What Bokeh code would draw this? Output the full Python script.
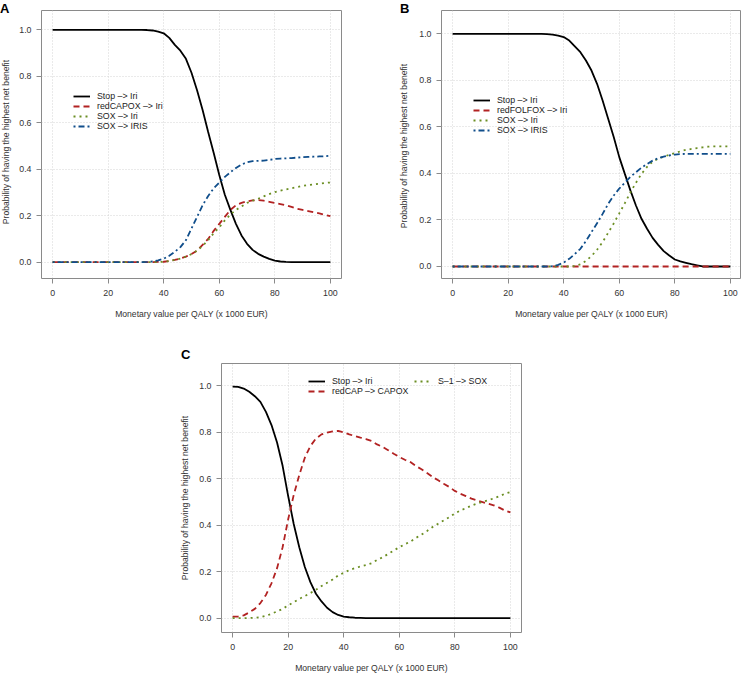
from bokeh.plotting import figure
from bokeh.layouts import column, row
from bokeh.models import (Range1d, FixedTicker, NumeralTickFormatter, Legend,
                          LegendItem, Spacer, Div)
from bokeh.embed import file_html
from bokeh.resources import INLINE

# ---- data: probability of each strategy having the highest net benefit ----
# Panels A and B share one grid of monetary values (x 1000 EUR)
ab_wtp = [0, 10, 20, 30, 32, 34, 36, 38, 40, 42, 44, 46, 48, 50, 52, 54, 56, 58,
          60, 62, 64, 66, 68, 70, 72, 74, 76, 78, 80, 82, 84, 86, 88, 90, 92,
          94, 96, 98, 100]

a_stop = [1.0, 1.0, 1.0, 1.0, 1.0, 0.999, 0.997, 0.992, 0.985, 0.965, 0.935,
          0.91, 0.875, 0.815, 0.74, 0.655, 0.56, 0.47, 0.375, 0.29, 0.225,
          0.165, 0.115, 0.079, 0.053, 0.036, 0.024, 0.014, 0.007, 0.003, 0.001,
          0, 0, 0, 0, 0, 0, 0, 0]
a_redcapox = [0, 0, 0, 0, 0, 0, 0, 0.001, 0.002, 0.005, 0.01, 0.016, 0.024,
              0.035, 0.05, 0.075, 0.10, 0.135, 0.165, 0.195, 0.225, 0.245,
              0.255, 0.262, 0.266, 0.267, 0.265, 0.26, 0.255, 0.25, 0.245,
              0.238, 0.23, 0.225, 0.22, 0.215, 0.21, 0.204, 0.198]
a_sox_iri = [0, 0, 0, 0, 0, 0, 0, 0.001, 0.002, 0.005, 0.01, 0.016, 0.024,
             0.035, 0.05, 0.07, 0.095, 0.125, 0.15, 0.18, 0.205, 0.225, 0.24,
             0.255, 0.265, 0.273, 0.283, 0.293, 0.302, 0.308, 0.313, 0.318,
             0.323, 0.328, 0.332, 0.335, 0.338, 0.341, 0.343]
a_sox_iris = [0, 0, 0, 0, 0, 0.001, 0.003, 0.008, 0.015, 0.028, 0.045, 0.065,
              0.095, 0.145, 0.195, 0.245, 0.285, 0.318, 0.343, 0.367, 0.387,
              0.405, 0.42, 0.43, 0.435, 0.436, 0.437, 0.44, 0.444, 0.446,
              0.447, 0.448, 0.45, 0.452, 0.453, 0.454, 0.455, 0.456, 0.458]

b_stop = [1.0, 1.0, 1.0, 1.0, 1.0, 0.999, 0.996, 0.992, 0.986, 0.971, 0.946,
          0.921, 0.885, 0.842, 0.785, 0.713, 0.635, 0.556, 0.47, 0.398, 0.327,
          0.262, 0.205, 0.162, 0.123, 0.093, 0.066, 0.047, 0.03, 0.022, 0.016,
          0.01, 0.005, 0, 0, 0, 0, 0, 0]
b_redfolfox = [0] * 39
b_sox_iri = [0, 0, 0, 0, 0, 0, 0, 0, 0, 0, 0.002, 0.009, 0.024, 0.045, 0.072,
             0.105, 0.145, 0.185, 0.228, 0.272, 0.318, 0.36, 0.398, 0.428,
             0.45, 0.463, 0.472, 0.48, 0.487, 0.495, 0.501, 0.505, 0.509,
             0.512, 0.515, 0.516, 0.516, 0.516, 0.516]
b_sox_iris = [0, 0, 0, 0, 0, 0, 0.001, 0.007, 0.017, 0.033, 0.054, 0.076,
              0.109, 0.148, 0.186, 0.226, 0.269, 0.305, 0.335, 0.36, 0.385,
              0.405, 0.425, 0.44, 0.455, 0.465, 0.472, 0.477, 0.481, 0.483,
              0.484, 0.484, 0.484, 0.484, 0.484, 0.484, 0.484, 0.484, 0.484]

# Panel C on a regular grid of 2 (x 1000 EUR)
c_wtp = list(range(0, 101, 2))
c_stop = [0.995, 0.994, 0.987, 0.973, 0.954, 0.93, 0.887, 0.83, 0.755, 0.655,
          0.525, 0.405, 0.305, 0.22, 0.155, 0.105, 0.072, 0.045, 0.026, 0.014,
          0.007, 0.004, 0.002, 0.001] + [0] * 27
c_redcap = [0.007, 0.007, 0.012, 0.025, 0.04, 0.065, 0.10, 0.15, 0.215, 0.305,
            0.425, 0.53, 0.615, 0.69, 0.74, 0.772, 0.79, 0.798, 0.803, 0.805,
            0.799, 0.79, 0.783, 0.776, 0.77, 0.762, 0.747, 0.736, 0.722, 0.707,
            0.693, 0.681, 0.671, 0.654, 0.64, 0.624, 0.607, 0.593, 0.578,
            0.564, 0.547, 0.535, 0.525, 0.514, 0.506, 0.499, 0.492, 0.485,
            0.475, 0.463, 0.455]
c_s1_sox = [0, 0, 0, 0.001, 0.002, 0.004, 0.01, 0.019, 0.029, 0.04, 0.055,
            0.069, 0.083, 0.095, 0.108, 0.122, 0.138, 0.152, 0.166, 0.184,
            0.195, 0.207, 0.215, 0.222, 0.228, 0.236, 0.25, 0.262, 0.276,
            0.291, 0.305, 0.318, 0.329, 0.345, 0.359, 0.375, 0.392, 0.406,
            0.42, 0.434, 0.45, 0.463, 0.473, 0.484, 0.493, 0.5, 0.507, 0.515,
            0.524, 0.535, 0.542]

x_ticks = [0, 20, 40, 60, 80, 100]
y_ticks = [0.0, 0.2, 0.4, 0.6, 0.8, 1.0]

X_TITLE = "Monetary value per QALY (x 1000 EUR)"
Y_TITLE = "Probability of having the highest net benefit"
FONT = "Liberation Sans"

# line styles for the four strategy types
STYLE = {
    "solid": dict(line_color="#000000", line_width=1.8, line_dash="solid"),
    "dash": dict(line_color="#B22222", line_width=1.8, line_dash="6 4"),
    "dot": dict(line_color="#6B8E23", line_width=1.8, line_dash="2 4"),
    "dashdot": dict(line_color="#104E8B", line_width=1.8, line_dash="2 3 6 3"),
}


def make_panel(y_lo, y_hi, fh, b_left, b_right, b_top, b_bottom):
    p = figure(title=None, frame_width=300, frame_height=fh,
               min_border_left=b_left, min_border_right=b_right,
               min_border_top=b_top, min_border_bottom=b_bottom,
               x_range=Range1d(-4, 104), y_range=Range1d(y_lo, y_hi),
               output_backend="svg", toolbar_location=None)
    p.background_fill_color = "white"
    p.border_fill_color = "white"
    p.outline_line_color = "#8a8a8a"
    p.outline_line_width = 1

    for ax, ticks in ((p.xaxis[0], x_ticks), (p.yaxis[0], y_ticks)):
        ax.ticker = FixedTicker(ticks=ticks)
        ax.axis_line_color = None
        ax.major_tick_line_color = "#8a8a8a"
        ax.major_tick_in = 0
        ax.major_tick_out = 5
        ax.minor_tick_line_color = None
        ax.major_label_text_font = FONT
        ax.major_label_text_font_size = "8.8px"
        ax.major_label_text_color = "#333333"
        ax.axis_label_text_font = FONT
        ax.axis_label_text_font_size = "8.6px"
        ax.axis_label_text_font_style = "normal"
        ax.axis_label_text_color = "#333333"
    p.xaxis[0].axis_label = X_TITLE
    p.xaxis[0].major_label_standoff = 6
    p.xaxis[0].axis_label_standoff = 10
    p.yaxis[0].major_label_standoff = 5
    p.yaxis[0].formatter = NumeralTickFormatter(format="0.0")

    for g, ticks in ((p.xgrid[0], x_ticks), (p.ygrid[0], y_ticks)):
        g.ticker = FixedTicker(ticks=ticks)
        g.grid_line_color = "#d4d4d4"
        g.grid_line_dash = "1 2"
        g.grid_line_width = 1
    return p


def add_legend(p, items, vx, vy):
    leg = Legend(items=items, location=(vx, vy))
    leg.background_fill_alpha = 0
    leg.border_line_alpha = 0
    leg.padding = 0
    leg.margin = 0
    leg.spacing = 0
    leg.glyph_width = 17
    leg.glyph_height = 10
    leg.label_height = 10
    leg.label_standoff = 7
    leg.label_text_font = FONT
    leg.label_text_font_size = "8.8px"
    leg.label_text_color = "#222222"
    p.add_layout(leg)


def panel_letter(letter, left, top):
    return Div(text=letter, width=14, height=16,
               styles={"position": "absolute", "left": f"{left}px",
                       "top": f"{top}px", "z-index": "10",
                       "font-family": FONT, "font-weight": "bold",
                       "font-size": "13px", "line-height": "15px",
                       "color": "#000000", "margin": "0", "padding": "0"})


def y_title(cx, cy):
    # vertical axis title, rotated and centred on (cx, cy)
    w, h = 220, 12
    return Div(text=Y_TITLE, width=w, height=h,
               styles={"position": "absolute", "left": f"{cx - w / 2}px",
                       "top": f"{cy - h / 2}px", "z-index": "10",
                       "transform": "rotate(-90deg)",
                       "transform-origin": "50% 50%",
                       "text-align": "center", "white-space": "nowrap",
                       "font-family": FONT, "font-size": "8.6px",
                       "line-height": f"{h}px", "color": "#333333",
                       "margin": "0", "padding": "0"})


# ---- panel A ----
pa = make_panel(-0.0701, 1.083, 268, 41, 29, 10, 47)
ra = [
    (pa.line(ab_wtp, a_stop, **STYLE["solid"]), "Stop \u2013> Iri"),
    (pa.line(ab_wtp, a_redcapox, **STYLE["dash"]), "redCAPOX \u2013> Iri"),
    (pa.line(ab_wtp, a_sox_iri, **STYLE["dot"]), "SOX \u2013> Iri"),
    (pa.line(ab_wtp, a_sox_iris, **STYLE["dashdot"]), "SOX \u2013> IRIS"),
]
add_legend(pa, [LegendItem(label=t, renderers=[r]) for r, t in ra], 32, 147)

# ---- panel B ----
pb = make_panel(-0.0516, 1.1001, 268, 71, 0, 10, 47)
rb = [
    (pb.line(ab_wtp, b_stop, **STYLE["solid"]), "Stop \u2013> Iri"),
    (pb.line(ab_wtp, b_redfolfox, **STYLE["dash"]), "redFOLFOX \u2013> Iri"),
    (pb.line(ab_wtp, b_sox_iri, **STYLE["dot"]), "SOX \u2013> Iri"),
    (pb.line(ab_wtp, b_sox_iris, **STYLE["dashdot"]), "SOX \u2013> IRIS"),
]
add_legend(pb, [LegendItem(label=t, renderers=[r]) for r, t in rb], 32, 143)

# ---- panel C ----
pc = make_panel(-0.0615, 1.0947, 269, 51, 50, 38, 42)
rc_stop = pc.line(c_wtp, c_stop, **STYLE["solid"])
rc_red = pc.line(c_wtp, c_redcap, **STYLE["dash"])
rc_s1 = pc.line(c_wtp, c_s1_sox, **STYLE["dot"])
add_legend(pc, [LegendItem(label="Stop \u2013> Iri", renderers=[rc_stop]),
                LegendItem(label="redCAP \u2013> CAPOX", renderers=[rc_red])],
           87, 236)
add_legend(pc, [LegendItem(label="S\u20131 \u2013> SOX", renderers=[rc_s1])],
           193, 246)

layout = column(row(pa, pb), row(Spacer(width=170, height=349), pc),
                panel_letter("A", 0, 1), panel_letter("B", 400, 1),
                panel_letter("C", 181, 347),
                y_title(6, 142), y_title(404, 146), y_title(185, 498))
layout.spacing = 0

open("out.html", "w").write(file_html(layout, INLINE))
